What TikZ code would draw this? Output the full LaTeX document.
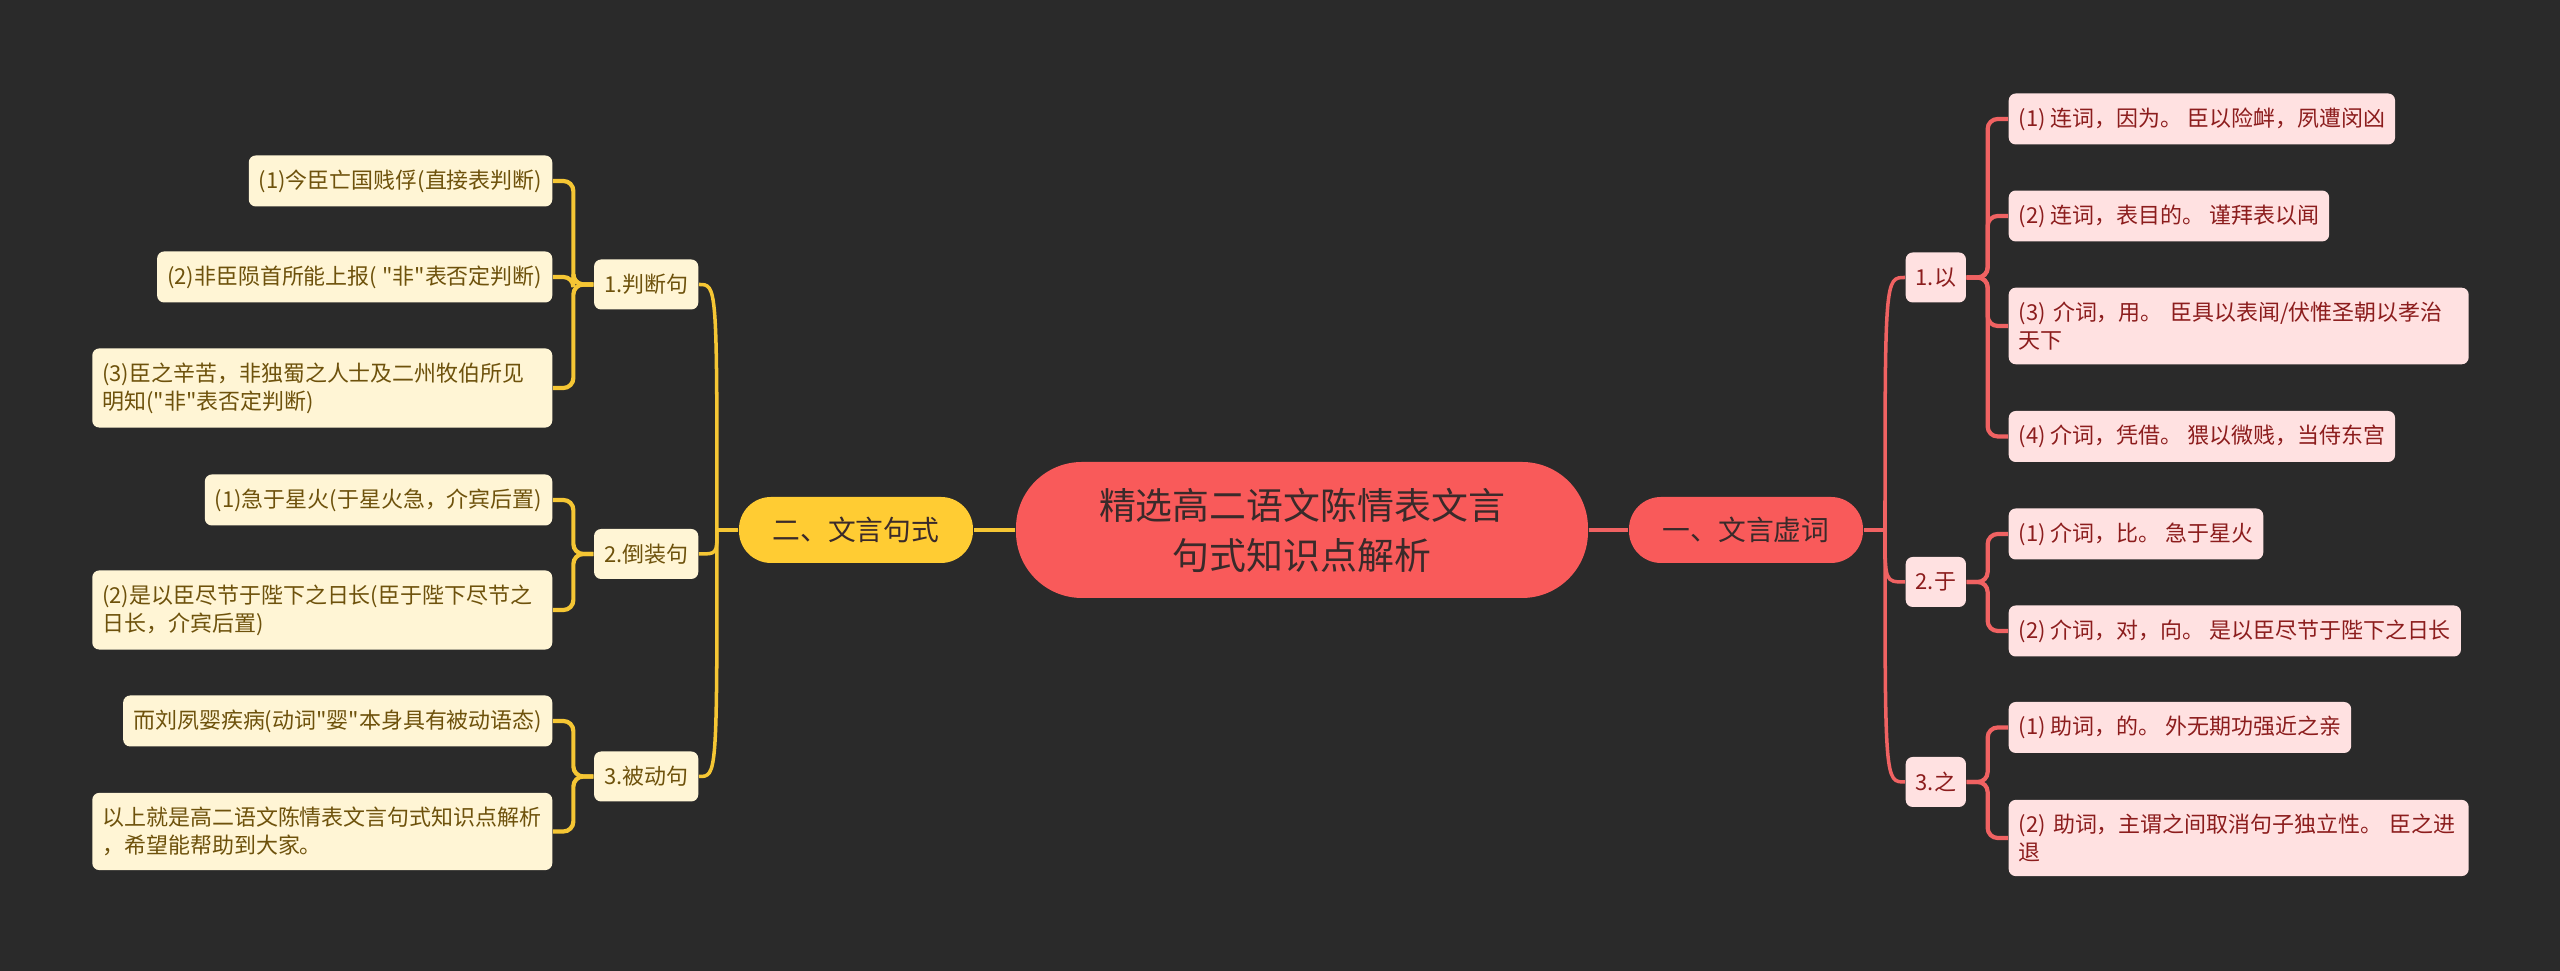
\documentclass[tikz,border=0pt]{standalone}
\usepackage{fontspec}
\setmainfont{Noto Sans CJK SC}[Ligatures=TeXOff]

\definecolor{bg}{HTML}{2A2A2A}
\definecolor{rootred}{HTML}{F95A5A}
\definecolor{darktxt}{HTML}{3A2A2A}
\definecolor{gold}{HTML}{FFCC33}
\definecolor{goldline}{HTML}{F5C634}
\definecolor{cream}{HTML}{FFF5D5}
\definecolor{creamtxt}{HTML}{6E520C}
\definecolor{redline}{HTML}{F06262}
\definecolor{pink}{HTML}{FFE1E1}
\definecolor{pinktxt}{HTML}{8C1D1D}

\begin{document}
\begin{tikzpicture}[
    root/.style={rounded corners=0.66cm, fill=rootred, text=darktxt, minimum width=5.72cm, minimum height=1.36cm, align=center, font=\fontsize{10.5}{14.2}\selectfont},
    topic/.style={rounded corners=0.32cm, minimum width=2.34cm, minimum height=0.66cm, text=darktxt, font=\fontsize{7.9}{9}\selectfont},
    sub/.style={rounded corners=0.07cm, inner xsep=0.1cm, minimum height=0.5cm, font=\fontsize{6.25}{8}\selectfont},
    leaf/.style={sub, inner ysep=4pt, align=left},
    wide/.style={text width=4.4cm},
    ysub/.style={sub, fill=cream, text=creamtxt},
    rsub/.style={sub, fill=pink, text=pinktxt},
    yleaf/.style={leaf, fill=cream, text=creamtxt, anchor=east},
    rleaf/.style={leaf, fill=pink, text=pinktxt, anchor=west},
    yline/.style={draw=goldline, line width=1pt},
    rline/.style={draw=redline, line width=1pt},
    yleafline/.style={yline, line width=1.2pt, rounded corners=0.1cm},
    rleafline/.style={rline, line width=1.2pt, rounded corners=0.1cm}]

    \useasboundingbox (-13.02, 5.30) rectangle (12.58, -4.41);
    \fill[bg] (-13.02, 5.30) rectangle (12.58, -4.41);

    \node at (0, 0) [root] (root) {精选高二语文陈情表文言\\句式知识点解析};
    \node at (-4.46, 0) [topic, fill=gold] (jushi) {二、文言句式};
    \node at (4.44, 0) [topic, fill=rootred] (xuci) {一、文言虚词};

    % left side
    \node at (-6.03, 2.455) [ysub, anchor=east] (panduan) {1.判断句};
    \node at (-6.03, -0.24) [ysub, anchor=east] (daozhuang) {2.倒装句};
    \node at (-6.03, -2.465) [ysub, anchor=east] (beidong) {3.被动句};

    \node at (-7.49, 3.49) [yleaf] (panduan1) {(1)今臣亡国贱俘(直接表判断)};
    \node at (-7.49, 2.53) [yleaf] (panduan2) {(2)非臣陨首所能上报( "非"表否定判断)};
    \node at (-7.49, 1.42) [yleaf, wide] (panduan3) {(3)臣之辛苦，非独蜀之人士及二州牧伯所见\\明知("非"表否定判断)};
    \node at (-7.49, 0.30) [yleaf] (daozhuang1) {(1)急于星火(于星火急，介宾后置)};
    \node at (-7.49, -0.80) [yleaf, wide] (daozhuang2) {(2)是以臣尽节于陛下之日长(臣于陛下尽节之\\日长，介宾后置)};
    \node at (-7.49, -1.91) [yleaf] (beidong1) {而刘夙婴疾病(动词"婴"本身具有被动语态)};
    \node at (-7.49, -3.015) [yleaf, wide] (beidong2) {以上就是高二语文陈情表文言句式知识点解析\\，希望能帮助到大家。};

    % right side
    \node at (6.03, 2.525) [rsub, anchor=west] (yi) {1.以};
    \node at (6.03, -0.52) [rsub, anchor=west] (yu) {2.于};
    \node at (6.03, -2.52) [rsub, anchor=west] (zhi) {3.之};

    \node at (7.06, 4.11) [rleaf] (yi1) {(1) 连词，因为。 臣以险衅，夙遭闵凶};
    \node at (7.06, 3.14) [rleaf] (yi2) {(2) 连词，表目的。 谨拜表以闻};
    \node at (7.06, 2.04) [rleaf, wide] (yi3) {(3) 介词，用。 臣具以表闻/伏惟圣朝以孝治\\天下};
    \node at (7.06, 0.935) [rleaf] (yi4) {(4) 介词，凭借。 猥以微贱，当侍东宫};
    \node at (7.06, -0.04) [rleaf] (yu1) {(1) 介词，比。 急于星火};
    \node at (7.06, -1.01) [rleaf] (yu2) {(2) 介词，对，向。 是以臣尽节于陛下之日长};
    \node at (7.06, -1.975) [rleaf] (zhi1) {(1) 助词，的。 外无期功强近之亲};
    \node at (7.06, -3.08) [rleaf, wide] (zhi2) {(2) 助词，主谓之间取消句子独立性。 臣之进\\退};

    \coordinate (jushij) at (-5.85, 0);
    \coordinate (xucij) at (5.83, 0);

    \draw[yline] (root) -- (jushi);
    \draw[rline] (root) -- (xuci);
    \draw[yline] (jushi.west) -- (jushij);
    \draw[rline] (xuci.east) -- (xucij);

    \foreach \n in {panduan, daozhuang, beidong}
        \draw[yline] (jushij) .. controls (jushij |- \n.east) .. (\n.east);
    \foreach \n in {yi, yu, zhi}
        \draw[rline] (xucij) .. controls (xucij |- \n.west) .. (\n.west);

    \foreach \n in {panduan1, panduan2, panduan3}
        \draw[yleafline] (panduan.west) -- ++(-0.2, 0) |- (\n.east);
    \foreach \n in {daozhuang1, daozhuang2}
        \draw[yleafline] (daozhuang.west) -- ++(-0.2, 0) |- (\n.east);
    \foreach \n in {beidong1, beidong2}
        \draw[yleafline] (beidong.west) -- ++(-0.2, 0) |- (\n.east);

    \foreach \n in {yi1, yi2, yi3, yi4}
        \draw[rleafline] (yi.east) -- ++(0.21, 0) |- (\n.west);
    \foreach \n in {yu1, yu2}
        \draw[rleafline] (yu.east) -- ++(0.21, 0) |- (\n.west);
    \foreach \n in {zhi1, zhi2}
        \draw[rleafline] (zhi.east) -- ++(0.21, 0) |- (\n.west);
\end{tikzpicture}
\end{document}
